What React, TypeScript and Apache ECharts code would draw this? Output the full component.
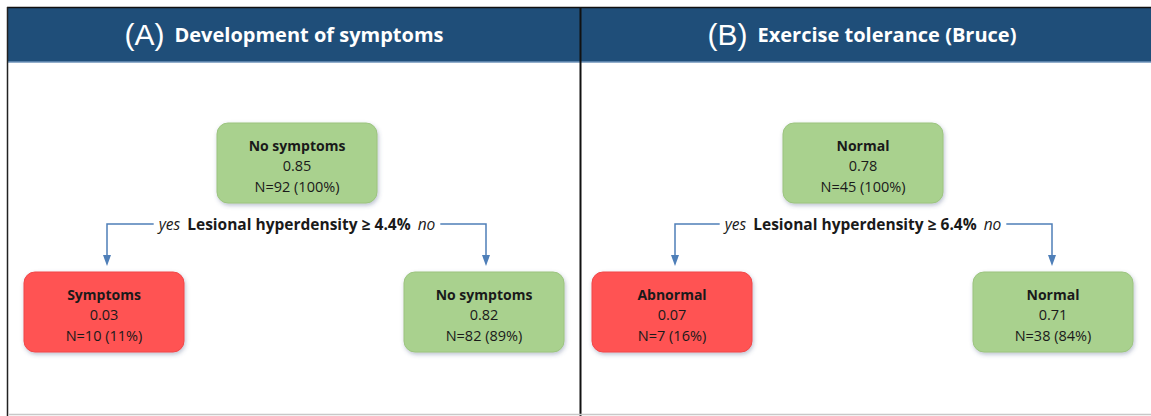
import React, { useEffect, useRef } from "react";
import * as echarts from "echarts";

// ---- data ----
const panelLetters = ["(A)", "(B)"];
const panelTitles = ["Development of symptoms", "Exercise tolerance (Bruce)"];
const splitFeature = ["Lesional hyperdensity", "Lesional hyperdensity"];
const splitThreshold = ["4.4%", "6.4%"];
const rootClass = ["No symptoms", "Normal"];
const rootValue = ["0.85", "0.78"];
const rootN = [92, 45];
const rootPct = [100, 100];
const yesClass = ["Symptoms", "Abnormal"];
const yesValue = ["0.03", "0.07"];
const yesN = [10, 7];
const yesPct = [11, 16];
const noClass = ["No symptoms", "Normal"];
const noValue = ["0.82", "0.71"];
const noN = [82, 38];
const noPct = [89, 84];
const yesLabel = "yes";
const noLabel = "no";

// ---- layout ----
const W = 1151;
const H = 416;
const PANELS = [
  { titleCx: 284, rootCx: 297, leftCx: 104, rightCx: 484, leftArrow: 107, rightArrow: 486 },
  { titleCx: 862, rootCx: 863, leftCx: 672, rightCx: 1053, leftArrow: 675, rightArrow: 1052 },
];
const NODE_W = 160;
const NODE_H = 80;
const ROOT_Y = 123;
const CHILD_Y = 272;
const SPLIT_Y = 224;
const FONT = "Open Sans";
const NODE_BOLD_FS = 14;
const NODE_FS = 14.5;
const SPLIT_FS = 15.5;
const TITLE_FS = 20;
const LETTER_FS = 30;
const GREEN = "#A9D18E";
const RED = "#FF5252";
const LINE = "#4F7FB8";
const HEADER = "#1F4E79";

function measure(text: string, font: string): number {
  const c = document.createElement("canvas").getContext("2d");
  if (!c) return text.length * 7;
  c.font = font;
  return c.measureText(text).width;
}

function nodeEls(cx: number, y: number, fill: string, cls: string, val: string, n: number, pct: number) {
  const els: any[] = [];
  els.push({
    type: "rect",
    shape: { x: cx - NODE_W / 2, y, width: NODE_W, height: NODE_H, r: 11 },
    style: {
      fill,
      stroke: fill === GREEN ? "#9CC47F" : "#F04848",
      lineWidth: 1,
      shadowBlur: 4,
      shadowColor: "rgba(60,80,120,0.35)",
      shadowOffsetX: 1,
      shadowOffsetY: 2,
    },
  });
  const lines = [cls, val, `N=${n} (${pct}%)`];
  lines.forEach((t, i) => {
    els.push({
      type: "text",
      x: cx,
      y: y + 22 + i * 20.5,
      style: {
        text: t,
        fill: "#1a1a1a",
        fontFamily: FONT,
        fontSize: i === 0 ? NODE_BOLD_FS : NODE_FS,
        fontWeight: i === 0 ? "bold" : "normal",
        textAlign: "center",
        textVerticalAlign: "middle",
      },
    });
  });
  return els;
}

function buildElements() {
  const els: any[] = [];
  // frame
  els.push({ type: "rect", shape: { x: 8, y: 8, width: W - 8, height: 54 }, style: { fill: HEADER } });
  els.push({ type: "line", shape: { x1: 8, y1: 62, x2: W, y2: 62 }, style: { stroke: "#6E93BA", lineWidth: 1.5 } });
  els.push({ type: "line", shape: { x1: 7, y1: 7.5, x2: W, y2: 7.5 }, style: { stroke: "#111", lineWidth: 1.5 } });
  els.push({ type: "line", shape: { x1: 7.5, y1: 7, x2: 7.5, y2: H }, style: { stroke: "#222", lineWidth: 1.5 } });
  els.push({ type: "line", shape: { x1: 580.5, y1: 7, x2: 580.5, y2: H }, style: { stroke: "#111", lineWidth: 2 } });
  els.push({ type: "line", shape: { x1: 8, y1: 414.5, x2: W, y2: 414.5 }, style: { stroke: "#C8C8C8", lineWidth: 1.5 } });

  PANELS.forEach((p, k) => {
    // title
    const letterFont = `${LETTER_FS}px 'Liberation Sans'`;
    const titleFont = `bold ${TITLE_FS}px '${FONT}'`;
    const lw = measure(panelLetters[k], letterFont);
    const tw = measure(panelTitles[k], titleFont);
    const gap = 10;
    const start = p.titleCx - (lw + gap + tw) / 2;
    els.push({
      type: "text",
      x: start,
      y: 34,
      style: {
        text: panelLetters[k],
        fill: "#fff",
        fontFamily: "Liberation Sans",
        fontSize: LETTER_FS,
        textAlign: "left",
        textVerticalAlign: "middle",
      },
    });
    els.push({
      type: "text",
      x: start + lw + gap,
      y: 34,
      style: {
        text: panelTitles[k],
        fill: "#fff",
        fontFamily: FONT,
        fontSize: TITLE_FS,
        fontWeight: "bold",
        textAlign: "left",
        textVerticalAlign: "middle",
      },
    });

    // split label
    const splitText = `${splitFeature[k]} \u2265 ${splitThreshold[k]}`;
    const sFont = `bold ${SPLIT_FS}px '${FONT}'`;
    const iFont = `italic ${SPLIT_FS}px '${FONT}'`;
    const sw = measure(splitText, sFont);
    const yw = measure(yesLabel, iFont);
    const nw = measure(noLabel, iFont);
    const g = 7;
    const total = yw + g + sw + g + nw;
    const s0 = p.rootCx - total / 2;
    els.push({
      type: "text", x: s0, y: SPLIT_Y,
      style: { text: yesLabel, fill: "#1a1a1a", fontFamily: FONT, fontSize: SPLIT_FS, fontStyle: "italic", textAlign: "left", textVerticalAlign: "middle" },
    });
    els.push({
      type: "text", x: s0 + yw + g, y: SPLIT_Y,
      style: { text: splitText, fill: "#1a1a1a", fontFamily: FONT, fontSize: SPLIT_FS, fontWeight: "bold", textAlign: "left", textVerticalAlign: "middle" },
    });
    els.push({
      type: "text", x: s0 + yw + g + sw + g, y: SPLIT_Y,
      style: { text: noLabel, fill: "#1a1a1a", fontFamily: FONT, fontSize: SPLIT_FS, fontStyle: "italic", textAlign: "left", textVerticalAlign: "middle" },
    });
    const s1 = s0 + total;
    const arrowTip = CHILD_Y - 6;
    const arrowBase = arrowTip - 11;
    // connectors
    els.push({
      type: "polyline",
      shape: { points: [[s0 - 5, SPLIT_Y], [p.leftArrow, SPLIT_Y], [p.leftArrow, arrowBase + 2]] },
      style: { stroke: LINE, lineWidth: 1.5, fill: "none" },
    });
    els.push({
      type: "polyline",
      shape: { points: [[s1 + 5, SPLIT_Y], [p.rightArrow, SPLIT_Y], [p.rightArrow, arrowBase + 2]] },
      style: { stroke: LINE, lineWidth: 1.5, fill: "none" },
    });
    [p.leftArrow, p.rightArrow].forEach((ax) => {
      els.push({
        type: "polygon",
        shape: { points: [[ax - 4, arrowBase], [ax + 4, arrowBase], [ax, arrowTip]] },
        style: { fill: LINE },
      });
    });

    // nodes
    els.push(...nodeEls(p.rootCx, ROOT_Y, GREEN, rootClass[k], rootValue[k], rootN[k], rootPct[k]));
    els.push(...nodeEls(p.leftCx, CHILD_Y, RED, yesClass[k], yesValue[k], yesN[k], yesPct[k]));
    els.push(...nodeEls(p.rightCx, CHILD_Y, GREEN, noClass[k], noValue[k], noN[k], noPct[k]));
  });
  return els;
}

export default function App() {
  const ref = useRef<HTMLDivElement>(null);
  useEffect(() => {
    document.body.style.margin = "0";
    if (!ref.current) return;
    const chart = echarts.init(ref.current, undefined, { renderer: "svg" });
    chart.setOption({
      animation: false,
      backgroundColor: "#ffffff",
      graphic: { elements: buildElements() },
    });
    return () => chart.dispose();
  }, []);
  return <div ref={ref} style={{ width: W, height: H }} />;
}
